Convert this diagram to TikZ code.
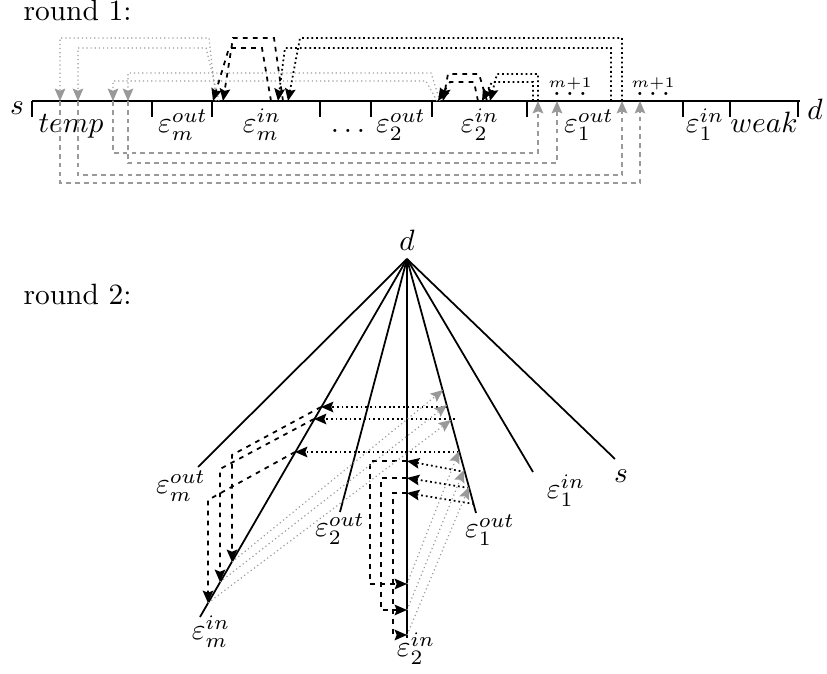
\documentclass[tikz,border=0pt]{standalone}
\usepackage{amsmath,amssymb}
\usepackage{tikz}
\usetikzlibrary{positioning, arrows.meta}

\begin{document}
\begin{tikzpicture}[
    x=0.34pt, y=-0.34pt,
    every node/.style={inner sep=0pt},
    axis/.style={thick},
    ray/.style={semithick},
    tip/.style={-{Stealth[length=4.2pt, width=3.6pt, inset=0.7pt]}},
    bdot/.style={tip, semithick, densely dotted},
    bdsh/.style={tip, semithick, dash pattern=on 1.6pt off 1.8pt},
    gdot/.style={tip, gray!80, densely dotted},
    gdsh/.style={tip, gray!80, semithick, dash pattern=on 1.6pt off 1.4pt},
    seg/.style={anchor=base},
]
\useasboundingbox (0,0) rectangle (827,674);

% round 1: the line from s to d
\node[anchor=base west] (r1) at (23,21) {round 1:};
\draw[axis] (32,101) coordinate (s1) -- (800,101) coordinate (d1);
\foreach \x in {32,152,212,320,371,432,527,683,730,798}
    \draw[axis] (\x,101) -- (\x,117);
\node[seg] (ls1) at (17,115) {$s$};
\node[seg] (ld1) at (815,120) {$d$};
\node[seg] (ltemp) at (71,133) {$temp$};
\node[seg] (lmout) at (183,133) {$\varepsilon_m^{out}$};
\node[seg] (lmin) at (262,133) {$\varepsilon_m^{in}$};
\node[seg] (ldots) at (348,133) {$\ldots$};
\node[seg] (l2out) at (401,133) {$\varepsilon_2^{out}$};
\node[seg] (l2in) at (480,133) {$\varepsilon_2^{in}$};
\node[seg] (l1out) at (589,133) {$\varepsilon_1^{out}$};
\node[seg] (l1in) at (705,133) {$\varepsilon_1^{in}$};
\node[seg] (lweak) at (764,133) {$weak$};
\node[seg] (rep1) at (570,96) {$\overset{\scriptscriptstyle m+1}{\ldots}$};
\node[seg] (rep2) at (653,96) {$\overset{\scriptscriptstyle m+1}{\ldots}$};

% back to temp
\draw[gdot] (216,101) -- (209,38) -- (60,38) -- (60,101);
\draw[gdot] (219,101) -- (206,48) -- (78,48) -- (78,101);
\draw[gdot] (440,101) -- (431,73) -- (128,73) -- (128,101);
\draw[gdot] (437,101) -- (426,81) -- (113,81) -- (113,101);
% from temp
\draw[gdsh] (113,101) -- (113,153) -- (538,153) -- (538,101);
\draw[gdsh] (128,101) -- (128,163) -- (557,163) -- (557,101);
\draw[gdsh] (78,101) -- (78,175) -- (622,175) -- (622,101);
\draw[gdsh] (60,101) -- (60,183) -- (640,183) -- (640,101);
% into the in-segments
\draw[bdot] (622,101) -- (622,38) -- (300,38) -- (288,101);
\draw[bdot] (611,101) -- (611,48) -- (285,48) -- (278,101);
\draw[bdot] (538,101) -- (538,74) -- (497,74) -- (490,101);
\draw[bdot] (533,101) -- (533,82) -- (492,82) -- (482,101);
% in to out
\draw[bdsh] (283,101) -- (274,38) -- (233,38) -- (223,101);
\draw[bdsh] (271,101) -- (262,48) -- (229,48) -- (213,101);
\draw[bdsh] (487,101) -- (479,74) -- (448,74) -- (443,101);
\draw[bdsh] (478,101) -- (474,82) -- (450,82) -- (438,101);

% round 2: the star at d
\node[anchor=base west] (r2) at (23,305) {round 2:};
\coordinate (D) at (407,259);
\node[seg] (ld2) at (407,251) {$d$};
\coordinate (Emout) at (198,467);
\coordinate (Emin) at (200,617);
\coordinate (E2out) at (340,512);
\coordinate (E2in) at (407,638);
\coordinate (E1out) at (476,513);
\coordinate (E1in) at (533,472);
\coordinate (S2) at (615,459);
\foreach \e in {Emout,Emin,E2out,E2in,E1out,E1in,S2}
    \draw[ray] (D) -- (\e);
\node[seg] (lmout2) at (181,494) {$\varepsilon_m^{out}$};
\node[seg] (lmin2) at (211,640) {$\varepsilon_m^{in}$};
\node[seg] (l2out2) at (340,537) {$\varepsilon_2^{out}$};
\node[seg] (l2in2) at (416,657) {$\varepsilon_2^{in}$};
\node[seg] (l1out2) at (490,538) {$\varepsilon_1^{out}$};
\node[seg] (l1in2) at (566,499) {$\varepsilon_1^{in}$};
\node[seg] (ls2) at (621,483) {$s$};

% out of epsilon_1^out
\draw[bdot] (447,407) -- (321,407);
\draw[bdot] (455,419) -- (314,419);
\draw[bdot] (459,452) -- (295,452);
\draw[bdot] (465,472) -- (407,461);
\draw[bdot] (469,488) -- (407,478);
\draw[bdot] (474,504) -- (407,493);
% inside epsilon_m and epsilon_2
\draw[bdsh] (321,407) -- (232,455) -- (232,562);
\draw[bdsh] (314,419) -- (220,469) -- (220,582);
\draw[bdsh] (295,452) -- (208,500) -- (208,603);
\draw[bdsh] (407,461) -- (370,461) -- (370,584) -- (407,584);
\draw[bdsh] (407,478) -- (381,478) -- (381,610) -- (407,610);
\draw[bdsh] (407,493) -- (393,493) -- (393,635) -- (407,635);
% back to epsilon_1^out
\draw[gdot] (232,562) -- (443,390);
\draw[gdot] (220,582) -- (447,405);
\draw[gdot] (208,603) -- (451,420);
\draw[gdot] (407,584) -- (459,451);
\draw[gdot] (407,610) -- (464,470);
\draw[gdot] (407,635) -- (469,487);
\end{tikzpicture}
\end{document}
